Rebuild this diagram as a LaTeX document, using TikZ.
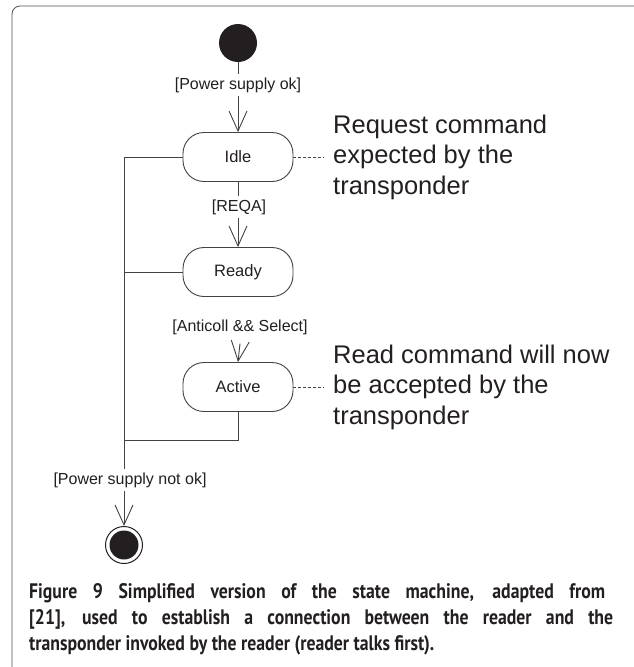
\documentclass[tikz,border=0pt]{standalone}
\usepackage{fontspec}
\setmainfont{Liberation Sans}
\newfontfamily\capfont{PT Sans}[FakeStretch=0.845]
\usetikzlibrary{arrows.meta}
\definecolor{ink}{HTML}{231F20}
\begin{document}
\begin{tikzpicture}[x=1pt,y=-1pt,
  line/.style={draw=ink!85, line width=0.9pt},
  arr/.style={line, -{Straight Barb[length=20pt,width=18pt,line width=0.9pt]}},
  state/.style={draw=ink!85, line width=0.9pt, rounded corners=21pt, minimum width=110pt, minimum height=49pt, inner sep=0pt, font=\fontsize{16.5}{18}\selectfont, text=ink},
  guard/.style={fill=white, inner xsep=1pt, inner ysep=4pt, font=\fontsize{16}{17}\selectfont, text=ink},
  note/.style={align=left, anchor=west, font=\fontsize{25.5}{30.5}\selectfont, text=ink, inner sep=0pt},
  capline/.style={anchor=base west, inner sep=0pt, text=ink, font=\capfont\bfseries\fontsize{21}{24}\selectfont},
]
\useasboundingbox (0,0) rectangle (634,667);
% frame
\draw[ink!80, line width=0.8pt, rounded corners=8pt] (12,667) -- (12,6) -- (634,6);

% states
\node[circle, fill=ink, minimum size=38pt, inner sep=0pt] (init) at (238,43) {};
\node[state] (idle) at (238,157) {Idle};
\node[state] (ready) at (238,272) {Ready};
\node[state] (active) at (238,387) {Active};
\node[circle, draw=ink, line width=1pt, minimum size=37pt, inner sep=0pt,
  path picture={\fill[ink] (path picture bounding box.center) circle (14.5pt);}] (fin) at (124,545) {};

% notes
\node[note] (n1) at (333,157) {Request command\\expected by the\\transponder};
\node[note] (n2) at (333,387) {Read command will now\\be accepted by the\\transponder};
\draw[line, dash pattern=on 3pt off 2pt, line width=0.7pt] (idle.east) -- (n1.west -| 324,0);
\draw[line, dash pattern=on 3pt off 2pt, line width=0.7pt] (active.east) -- (n2.west -| 324,0);

% coordinates of the return path
\coordinate (lt) at (124,157);
\coordinate (jn) at (124,440);

% transitions
\draw[arr] (init) -- (idle);
\draw[arr] (idle) -- (ready);
\draw[line] (idle.west) -- (lt) -- (jn);
\draw[line] (ready.west) -- (ready.west -| lt);
\draw[line] (active.south) |- (jn);
\draw[arr] (jn) -- (fin);

% guards
\node[guard] (g1) at (238,85) {[Power supply ok]};
\node[guard] (g2) at (239,207) {[REQA]};
\node[guard] (g3) at (240,327) {[Anticoll \&\& Select]};
\node[guard] (g4) at (130,480) {[Power supply not ok]};
\draw[arr] ([yshift=-5pt]g3.south) -- (active.north);

% caption
\node[capline] (c1) at (29,598) {\makebox[576pt][s]{Figure 9 Simplified version of the state machine, adapted from}};
\node[capline] (c2) at (29,624) {\makebox[584pt][s]{[21], used to establish a connection between the reader and the}};
\node[capline] (c3) at (29,650) {transponder invoked by the reader (reader talks first).};
\end{tikzpicture}
\end{document}
